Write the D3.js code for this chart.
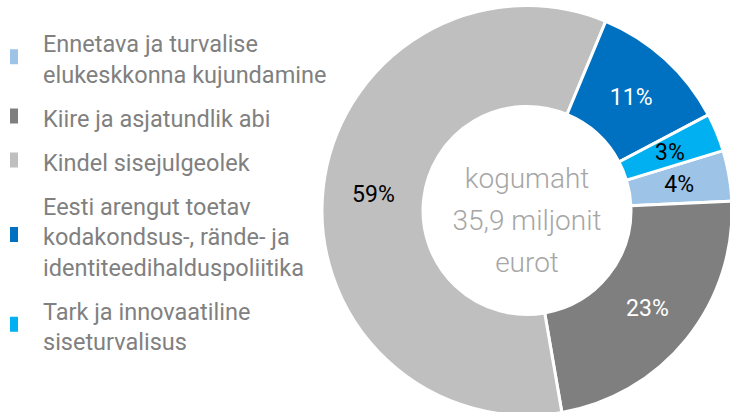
<!DOCTYPE html>
<html>
<head>
<meta charset="utf-8">
<script src="https://cdn.jsdelivr.net/npm/d3@7"></script>
<style>
  body { margin: 0; background: #fff; }
  svg { display: block; font-family: Roboto, "Noto Sans", sans-serif; }
</style>
</head>
<body>
<div id="chart"></div>
<script>
// data
const CATEGORIES = [
  ['Ennetava ja turvalise', 'elukeskkonna kujundamine'],
  ['Kiire ja asjatundlik abi'],
  ['Kindel sisejulgeolek'],
  ['Eesti arengut toetav', 'kodakondsus-, rände- ja', 'identiteedihalduspoliitika'],
  ['Tark ja innovaatiline', 'siseturvalisus']
]
const SHARES = [4, 23, 59, 11, 3]
const COLORS = ['#9dc3e6', '#7f7f7f', '#bfbfbf', '#0070c0', '#00b0f0']
const LABEL_COLORS = ['#000', '#fff', '#000', '#fff', '#000']
const CENTER_TEXT = ['kogumaht', '35,9 miljonit', 'eurot']

const WIDTH = 730
const HEIGHT = 412
const CX = 527
const CY = 210.5
const OUTER = 205
const INNER = 104
const START = 73 * Math.PI / 180

const LEGEND_X = 43
const LEGEND_TOP = 52
const LINE_H = 30.5
const ITEM_GAP = 44

let svg = d3.select('#chart')
  .append('svg')
    .attr('width', WIDTH)
    .attr('height', HEIGHT)

// donut
let pie = d3.pie()
  .sort(null)
  .value((d) => d)
  .startAngle(START)
  .endAngle(START + 2 * Math.PI)

let arc = d3.arc()
  .innerRadius(INNER)
  .outerRadius(OUTER)

let label_arc = d3.arc()
  .innerRadius((INNER + OUTER) / 2)
  .outerRadius((INNER + OUTER) / 2)

let g = svg.append('g')
  .attr('transform', 'translate(' + [CX, CY] + ')')

let slices = pie(SHARES)

g.selectAll('.slice')
    .data(slices)
  .enter().append('path')
    .attr('class', 'slice')
    .attr('d', arc)
    .attr('fill', (d, i) => COLORS[i])
    .attr('stroke', '#fff')
    .attr('stroke-width', 3)

g.selectAll('.pct')
    .data(slices)
  .enter().append('text')
    .attr('class', 'pct')
    .attr('transform', (d) => 'translate(' + label_arc.centroid(d) + ')')
    .attr('text-anchor', 'middle')
    .attr('dy', '0.36em')
    .attr('font-size', 23)
    .attr('fill', (d, i) => LABEL_COLORS[i])
    .text((d) => d.data + '%')

g.selectAll('.center')
    .data(CENTER_TEXT)
  .enter().append('text')
    .attr('class', 'center')
    .attr('text-anchor', 'middle')
    .attr('y', (d, i) => (i - 1) * 42 + 19)
    .attr('font-size', 28)
    .attr('font-weight', 300)
    .attr('fill', '#a6a6a6')
    .text((d) => d)

// legend
let y = LEGEND_TOP
let legend_pos = CATEGORIES.map((lines) => {
  let p = y
  y += (lines.length - 1) * LINE_H + ITEM_GAP
  return p
})

let legend = svg.append('g')
    .attr('class', 'legend')
  .selectAll('.item')
    .data(CATEGORIES)
  .enter().append('g')
    .attr('class', 'item')
    .attr('transform', (d, i) => 'translate(0,' + legend_pos[i] + ')')

legend.append('rect')
  .attr('x', 10)
  .attr('y', (d) => (d.length - 1) * LINE_H / 2 - 18)
  .attr('width', 8)
  .attr('height', 15)
  .attr('fill', (d, i) => COLORS[i])

legend.selectAll('text')
    .data((d) => d)
  .enter().append('text')
    .attr('x', LEGEND_X)
    .attr('y', (d, j) => j * LINE_H)
    .attr('font-size', 23.5)
    .attr('fill', '#808080')
    .text((d) => d)
</script>
</body>
</html>
